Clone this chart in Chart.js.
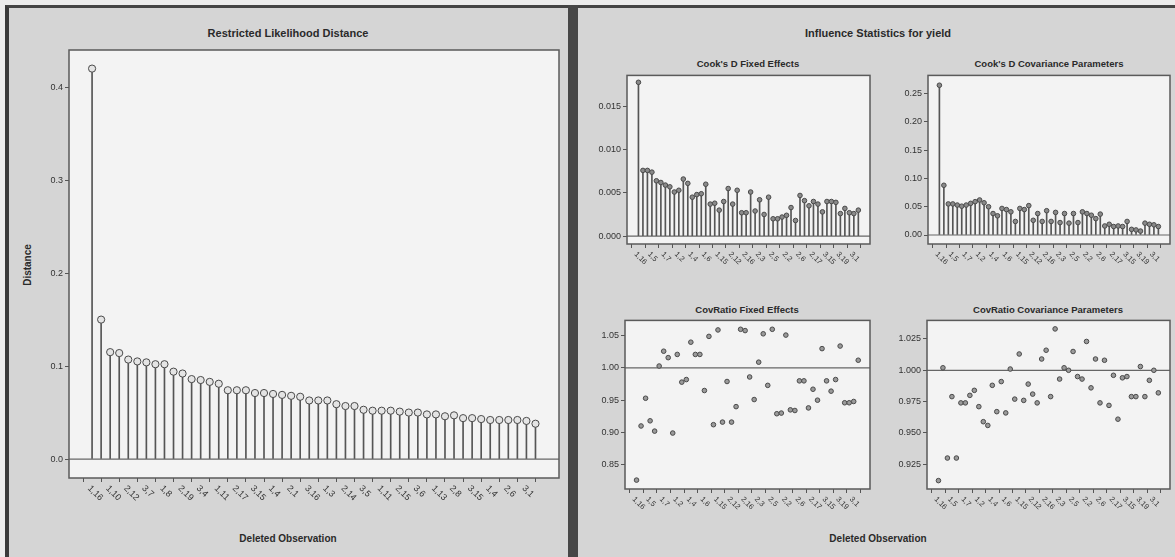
<!DOCTYPE html>
<html>
<head>
<meta charset="utf-8">
<script src="https://cdn.jsdelivr.net/npm/chart.js@4.4.1/dist/chart.umd.min.js"></script>
<style>
  body { margin: 0; width: 1175px; height: 557px; background: #ececec; overflow: hidden; position: relative;
         font-family: 'Liberation Sans', Arial, sans-serif; color: #2a2a2a; }
  .panel { position: absolute; top: 5px; height: 552px; background: #d5d5d5; box-sizing: border-box; border-top: 3px solid #444; }
  #leftPanel { left: 5px; width: 563px; border-left: 4px solid #3a3a3a; }
  #divider { position: absolute; left: 568px; top: 5px; width: 10px; height: 552px; background: #474747; }
  #rightPanel { left: 578px; width: 597px; }
  .t { position: absolute; transform: translate(-50%, -50%); white-space: nowrap; font-weight: bold; }
  canvas { position: absolute; }
</style>
</head>
<body>
<div id="leftPanel" class="panel"></div>
<div id="divider"></div>
<div id="rightPanel" class="panel"></div>

<div class="t" style="left:288px; top:33px; font-size:11px;">Restricted Likelihood Distance</div>
<div class="t" style="left:27px; top:265px; font-size:10px; transform:translate(-50%,-50%) rotate(-90deg);">Distance</div>
<div class="t" style="left:288px; top:538px; font-size:10px;">Deleted Observation</div>

<div class="t" style="left:878px; top:33px; font-size:11px;">Influence Statistics for yield</div>
<div class="t" style="left:748px; top:63px; font-size:9.5px;">Cook's D Fixed Effects</div>
<div class="t" style="left:1049px; top:63px; font-size:9.5px;">Cook's D Covariance Parameters</div>
<div class="t" style="left:747px; top:309px; font-size:9.5px;">CovRatio Fixed Effects</div>
<div class="t" style="left:1048px; top:309px; font-size:9.5px;">CovRatio Covariance Parameters</div>
<div class="t" style="left:878px; top:538px; font-size:10px;">Deleted Observation</div>

<canvas id="dist" style="left:8px; top:40px;" width="560" height="480"></canvas>
<canvas id="cookFix" style="left:578px; top:68px;" width="297" height="225"></canvas>
<canvas id="cookCov" style="left:875px; top:68px;" width="300" height="225"></canvas>
<canvas id="covFix" style="left:578px; top:313px;" width="297" height="222"></canvas>
<canvas id="covCov" style="left:875px; top:313px;" width="300" height="222"></canvas>

<script>
// observations sorted by restricted likelihood distance
const distLabels = ['1,16','2,3','1,10','3,5','2,12','1,1','3,7','2,14','1,8','3,2',
  '2,19','1,20','3,4','2,9','1,11','3,6','2,17','1,13','3,15','2,18',
  '1,4','3,12','2,1','1,9','3,16','2,7','1,3','3,20','2,14','1,10',
  '3,5','2,18','1,11','3,2','2,15','1,8','3,6','2,19','1,13','3,17',
  '2,8','1,2','3,15','2,11','1,4','3,19','2,6','1,13','3,1','2,10'];
const distValues = [0.420, 0.150, 0.115, 0.114, 0.107, 0.105, 0.104, 0.102, 0.102, 0.094,
  0.092, 0.086, 0.085, 0.083, 0.081, 0.074, 0.074, 0.074, 0.071, 0.071,
  0.070, 0.069, 0.068, 0.067, 0.063, 0.063, 0.063, 0.059, 0.057, 0.057,
  0.053, 0.052, 0.052, 0.052, 0.051, 0.050, 0.050, 0.048, 0.048, 0.046,
  0.047, 0.044, 0.044, 0.043, 0.042, 0.042, 0.042, 0.042, 0.041, 0.038];

// observations in data order (influence panel)
const obsLabels = ['1,16','1,3','1,10','1,5','1,12','1,1','1,7','1,14','1,8','1,2',
  '1,19','1,20','1,4','1,9','1,11','1,6','1,17','1,13','1,15','1,18',
  '2,4','2,12','2,1','2,9','2,16','2,7','2,20','2,3','2,14','2,10',
  '2,5','2,18','2,11','2,2','2,15','2,8','2,6','2,19','2,13','2,17',
  '3,8','3,2','3,15','3,11','3,4','3,19','3,6','3,13','3,1','3,10'];
const cookFixed = [0.0178, 0.0076, 0.0076, 0.0074, 0.0064, 0.0062, 0.0059, 0.0057, 0.0051, 0.0053,
  0.0066, 0.0061, 0.0045, 0.0048, 0.0049, 0.0060, 0.0037, 0.0038, 0.0030, 0.0040,
  0.0055, 0.0037, 0.0053, 0.0027, 0.0027, 0.0051, 0.0029, 0.0042, 0.0025, 0.0045,
  0.0020, 0.0020, 0.0022, 0.0024, 0.0033, 0.0018, 0.0047, 0.0041, 0.0035, 0.0040,
  0.0037, 0.0028, 0.0040, 0.0040, 0.0039, 0.0026, 0.0032, 0.0027, 0.0026, 0.0030];
const cookCov = [0.265, 0.088, 0.055, 0.055, 0.053, 0.051, 0.053, 0.056, 0.059, 0.062,
  0.057, 0.050, 0.038, 0.034, 0.047, 0.045, 0.041, 0.024, 0.047, 0.045,
  0.052, 0.026, 0.038, 0.024, 0.043, 0.024, 0.040, 0.022, 0.038, 0.021,
  0.038, 0.022, 0.041, 0.038, 0.035, 0.029, 0.037, 0.016, 0.019, 0.015,
  0.016, 0.015, 0.024, 0.010, 0.009, 0.007, 0.021, 0.019, 0.018, 0.015];
const covRatioFixed = [0.826, 0.910, 0.953, 0.918, 0.902, 1.003, 1.026, 1.016, 0.899, 1.021,
  0.978, 0.982, 1.040, 1.021, 1.021, 0.965, 1.049, 0.912, 1.059, 0.916,
  0.979, 0.916, 0.940, 1.060, 1.058, 0.986, 0.951, 1.009, 1.053, 0.973,
  1.060, 0.929, 0.930, 1.051, 0.935, 0.934, 0.980, 0.980, 0.938, 0.967,
  0.950, 1.030, 0.980, 0.964, 0.982, 1.034, 0.946, 0.946, 0.948, 1.012];
const covRatioCov = [0.912, 1.002, 0.930, 0.979, 0.930, 0.974, 0.974, 0.980, 0.984, 0.971,
  0.959, 0.956, 0.988, 0.967, 0.991, 0.966, 1.001, 0.977, 1.013, 0.976,
  0.989, 0.981, 0.974, 1.009, 1.016, 0.979, 1.033, 0.993, 1.002, 1.000,
  1.015, 0.995, 0.993, 1.023, 0.986, 1.009, 0.974, 1.008, 0.972, 0.996,
  0.961, 0.994, 0.995, 0.979, 0.979, 1.003, 0.979, 0.992, 1.000, 0.982];

const distTicks = [0.0, 0.1, 0.2, 0.3, 0.4];
const cookFixedTicks = [0.000, 0.005, 0.010, 0.015];
const cookCovTicks = [0.00, 0.05, 0.10, 0.15, 0.20, 0.25];
const covFixedTicks = [0.85, 0.90, 0.95, 1.00, 1.05];
const covCovTicks = [0.925, 0.950, 0.975, 1.000, 1.025];

const FONT = "'Liberation Sans', Arial, sans-serif";

// plot background, frame, reference line and slanted observation labels
const framePlugin = {
  id: 'frame',
  beforeDraw(chart) {
    const a = chart.chartArea, ctx = chart.ctx;
    ctx.save();
    ctx.fillStyle = '#f3f3f3';
    ctx.fillRect(a.left, a.top, a.right - a.left, a.bottom - a.top);
    ctx.restore();
  },
  beforeDatasetsDraw(chart, args, opts) {
    if (opts.ref === undefined) return;
    const a = chart.chartArea, ctx = chart.ctx;
    const y = chart.scales.y.getPixelForValue(opts.ref);
    ctx.save();
    ctx.strokeStyle = '#666';
    ctx.lineWidth = 1.2;
    ctx.beginPath();
    ctx.moveTo(a.left, y);
    ctx.lineTo(a.right, y);
    ctx.stroke();
    ctx.restore();
  },
  afterDraw(chart, args, opts) {
    const a = chart.chartArea, ctx = chart.ctx, xs = chart.scales.x;
    ctx.save();
    ctx.strokeStyle = '#5a5a5a';
    ctx.lineWidth = 1.5;
    ctx.strokeRect(a.left, a.top, a.right - a.left, a.bottom - a.top);
    ctx.fillStyle = '#333';
    ctx.font = opts.fontSize + 'px ' + FONT;
    ctx.textAlign = 'left';
    ctx.textBaseline = 'middle';
    xs.ticks.forEach(t => {
      const px = xs.getPixelForValue(t.value);
      ctx.save();
      ctx.translate(px - 3, a.bottom + 9);
      ctx.rotate(Math.PI / 4);
      ctx.fillText(opts.labels[t.value - 1], 0, 0);
      ctx.restore();
    });
    ctx.restore();
  }
};

function makeChart(id, o) {
  const pts = o.values.map((v, i) => ({ x: i + 1, y: v }));
  const datasets = [];
  if (o.stems) {
    datasets.push({ type: 'bar', data: pts, backgroundColor: '#555', barThickness: 1, order: 2 });
  }
  datasets.push({
    type: 'scatter', data: pts, order: 1,
    pointRadius: o.radius, pointBackgroundColor: o.fill, pointBorderColor: '#4a4a4a', pointBorderWidth: 1
  });
  const xTicks = [];
  for (let i = 1; i <= o.values.length; i += o.every) xTicks.push(i);

  return new Chart(document.getElementById(id), {
    type: 'bar',
    data: { datasets },
    plugins: [framePlugin],
    options: {
      responsive: false,
      animation: false,
      layout: { padding: { top: o.padTop, right: o.padRight, left: 0, bottom: 0 } },
      plugins: {
        legend: { display: false },
        tooltip: { enabled: false },
        frame: { ref: o.ref, labels: o.labels, fontSize: o.labelSize }
      },
      scales: {
        x: {
          type: 'linear', min: -1.55, max: 52.6, offset: false,
          grid: { drawOnChartArea: false, drawTicks: true, tickLength: 4, color: '#555', lineWidth: 1 },
          border: { display: false },
          ticks: { display: false },
          afterBuildTicks: s => { s.ticks = xTicks.map(v => ({ value: v })); },
          afterFit: s => { s.height = o.xH; }
        },
        y: {
          type: 'linear', min: o.yMin, max: o.yMax,
          grid: { drawOnChartArea: false, drawTicks: true, tickLength: 4, color: '#555', lineWidth: 1 },
          border: { display: false },
          ticks: {
            color: '#333', padding: 2, font: { family: FONT, size: 9 },
            callback: v => v.toFixed(o.dec)
          },
          afterBuildTicks: s => { s.ticks = o.yTicks.map(v => ({ value: v })); },
          afterFit: s => { s.width = o.yW; }
        }
      }
    }
  });
}

makeChart('dist', {
  values: distValues, labels: distLabels, stems: true, every: 2,
  yMin: -0.0204, yMax: 0.44, yTicks: distTicks, dec: 1, ref: 0,
  yW: 61, xH: 42, padTop: 10, padRight: 9, radius: 3.6, fill: '#e4e4e4', labelSize: 9
});
makeChart('cookFix', {
  values: cookFixed, labels: obsLabels, stems: true, every: 3,
  yMin: -0.00092, yMax: 0.0186, yTicks: cookFixedTicks, dec: 3, ref: 0,
  yW: 49, xH: 49, padTop: 7, padRight: 5, radius: 2.3, fill: '#8a8a8a', labelSize: 7.5
});
makeChart('cookCov', {
  values: cookCov, labels: obsLabels, stems: true, every: 3,
  yMin: -0.0159, yMax: 0.2824, yTicks: cookCovTicks, dec: 2, ref: 0,
  yW: 53, xH: 49, padTop: 7, padRight: 5, radius: 2.3, fill: '#8a8a8a', labelSize: 7.5
});
makeChart('covFix', {
  values: covRatioFixed, labels: obsLabels, stems: false, every: 3,
  yMin: 0.8122, yMax: 1.0738, yTicks: covFixedTicks, dec: 2, ref: 1,
  yW: 47, xH: 46, padTop: 7, padRight: 5, radius: 2.3, fill: '#9a9a9a', labelSize: 7.5
});
makeChart('covCov', {
  values: covRatioCov, labels: obsLabels, stems: false, every: 3,
  yMin: 0.9053, yMax: 1.0398, yTicks: covCovTicks, dec: 3, ref: 1,
  yW: 52, xH: 46, padTop: 7, padRight: 5, radius: 2.3, fill: '#9a9a9a', labelSize: 7.5
});
</script>
</body>
</html>
